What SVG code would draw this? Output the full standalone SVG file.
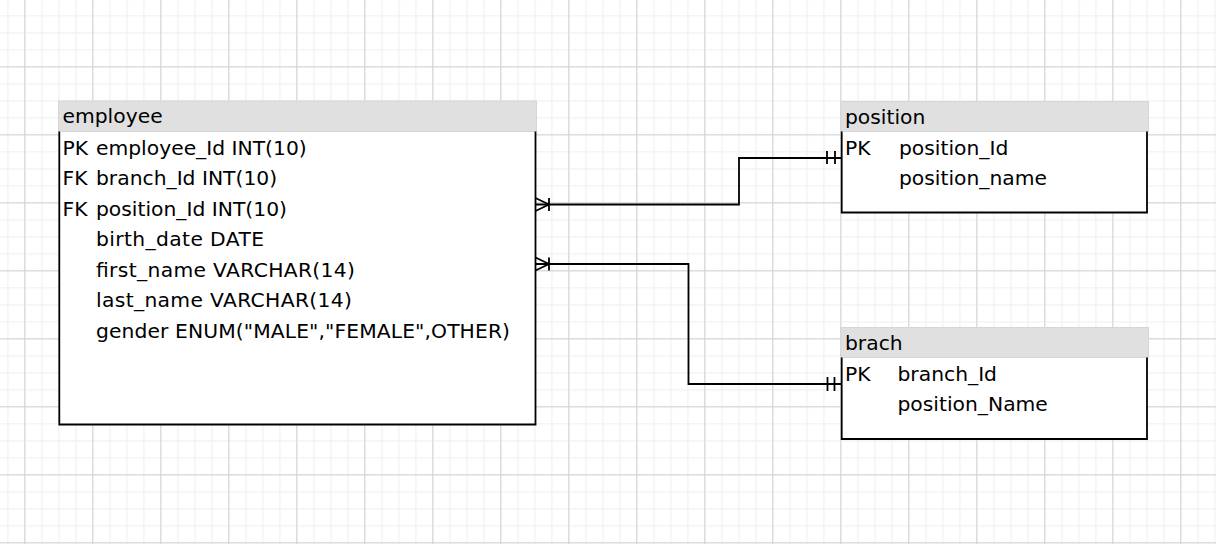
<svg xmlns="http://www.w3.org/2000/svg" width="1216" height="544" viewBox="0 0 1216 544">
<style>
  text { font-family: "DejaVu Sans", Verdana, sans-serif; font-size: 20.3px; fill: #000; }
  .hdr { fill: #e0e0e0; stroke: #d6d6d6; stroke-width: 1; }
  .body { fill: #ffffff; stroke: none; }
  .border { fill: none; stroke: #000; stroke-width: 1.8; }
  .conn { fill: none; stroke: #000; stroke-width: 1.8; }
</style>
<defs>
  <pattern id="minor" x="24.3" y="66.3" width="17" height="17" patternUnits="userSpaceOnUse">
    <path d="M0.5,0 V17 M0,0.5 H17" stroke="#f1f1f1" stroke-width="1.6" fill="none"/>
  </pattern>
  <pattern id="major" x="24.3" y="66.3" width="68" height="68" patternUnits="userSpaceOnUse">
    <path d="M0.5,0 V68 M0,0.5 H68" stroke="#d2d2d2" stroke-width="1" fill="none"/>
  </pattern>
</defs>
<rect width="1216" height="544" fill="#ffffff"/>
<rect width="1216" height="544" fill="url(#minor)"/>
<rect width="1216" height="544" fill="url(#major)"/>

<g id="employee">
  <rect class="body" x="59.3" y="131.5" width="476.2" height="293.5"/>
  <rect class="hdr" x="58.5" y="101" width="478" height="30.5"/>
  <path class="border" d="M59.3,131.5 V424.5 H535.5 V131.5"/>
  <text x="62.5" y="123">employee</text>
  <text x="62.5" y="154.5">PK</text><text x="96" y="154.5">employee_Id INT(10)</text>
  <text x="62.5" y="185">FK</text><text x="96" y="185">branch_Id INT(10)</text>
  <text x="62.5" y="215.6">FK</text><text x="96" y="215.6">position_Id INT(10)</text>
  <text x="96" y="246.2" textLength="168" lengthAdjust="spacing">birth_date DATE</text>
  <text x="96" y="276.8" textLength="259" lengthAdjust="spacing">first_name VARCHAR(14)</text>
  <text x="96" y="307.4" textLength="256" lengthAdjust="spacing">last_name VARCHAR(14)</text>
  <text x="96" y="338" textLength="414" lengthAdjust="spacing">gender ENUM("MALE","FEMALE",OTHER)</text>
</g>

<g id="position">
  <rect class="body" x="841.7" y="131.5" width="305.3" height="81"/>
  <rect class="hdr" x="841" y="101.5" width="307.5" height="30"/>
  <path class="border" d="M841.7,131.5 V212.5 H1147 V131.5"/>
  <text x="845" y="123.5">position</text>
  <text x="845" y="154.5">PK</text><text x="899" y="154.5">position_Id</text>
  <text x="899" y="185">position_name</text>
</g>

<g id="brach">
  <rect class="body" x="841.7" y="357.5" width="305.3" height="81.5"/>
  <rect class="hdr" x="841" y="327.5" width="307.5" height="30"/>
  <path class="border" d="M841.7,357.5 V439 H1147 V357.5"/>
  <text x="845" y="349.5">brach</text>
  <text x="845" y="381">PK</text><text x="897.5" y="381">branch_Id</text>
  <text x="897.5" y="411">position_Name</text>
</g>

<g id="connectors">
  <path class="conn" d="M535.5,204.5 H739 V158 H841"/>
  <path class="conn" d="M535.5,198 L549,204.5 L535.5,211 M549,198 V211"/>
  <path class="conn" d="M827,151 V164 M835,151 V164"/>
  <path class="conn" d="M535.5,264 H688.5 V384 H841"/>
  <path class="conn" d="M535.5,257.5 L549,264 L535.5,270.5 M549,257.5 V270.5"/>
  <path class="conn" d="M827.5,377 V391 M834.5,377 V391"/>
</g>
</svg>
